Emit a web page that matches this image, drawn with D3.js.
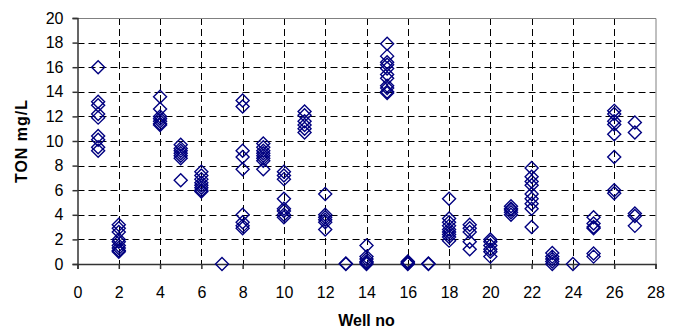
<!DOCTYPE html>
<html>
<head>
<meta charset="utf-8">
<script src="https://cdn.jsdelivr.net/npm/d3@7"></script>
<style>
  body { margin: 0; background: #fff; }
  svg { display: block; font-family: "Liberation Sans", Arial, sans-serif; }
</style>
</head>
<body>
<svg id="chart" width="675" height="331"></svg>
<script>
// TON readings per well (mg/L)
const well1 = [16.0, 13.2, 12.9, 12.2, 11.9, 10.4, 10.1, 9.5, 9.2];
const well2 = [3.2, 2.9, 2.6, 2.0, 1.8, 1.5, 1.3, 1.1, 1.0];
const well4 = [13.6, 12.6, 12.0, 11.8, 11.6, 11.4, 11.3];
const well5 = [9.7, 9.4, 9.2, 9.0, 8.8, 8.6, 6.8];
const well6 = [7.5, 7.2, 6.9, 6.6, 6.4, 6.2, 6.0, 5.9];
const well7 = [0];
const well8 = [13.3, 12.8, 9.2, 8.7, 7.7, 4.0, 3.4, 3.1, 2.9];
const well9 = [9.8, 9.5, 9.2, 9.0, 8.8, 8.6, 8.4, 7.7];
const well10 = [7.5, 7.2, 6.9, 5.3, 4.5, 4.3, 4.0, 3.8];
const well11 = [12.4, 12.1, 11.6, 11.3, 11.0, 10.7];
const well12 = [5.7, 4.0, 3.8, 3.6, 3.4, 2.8];
const well13 = [0.05, 0];
const well14 = [1.5, 0.6, 0.4, 0.2, 0.1, 0];
const well15 = [17.9, 16.9, 16.4, 16.2, 15.9, 15.4, 15.1, 14.5, 14.3, 14.0, 13.9];
const well16 = [0.2, 0.1, 0.05, 0];
const well17 = [0.05, 0];
const well18 = [5.3, 3.7, 3.4, 3.1, 2.8, 2.6, 2.4, 2.2, 1.9];
const well19 = [3.2, 2.9, 2.6, 1.8, 1.2];
const well20 = [2.0, 1.8, 1.5, 1.2, 1.0, 0.6];
const well21 = [4.7, 4.5, 4.4, 4.2, 4.0];
const well22 = [7.8, 7.1, 6.7, 6.4, 5.7, 5.3, 4.9, 4.5, 3.0];
const well23 = [0.9, 0.6, 0.4, 0.2, 0.0];
const well24 = [0];
const well25 = [3.8, 3.3, 3.0, 2.9, 0.85, 0.6];
const well26 = [12.45, 12.2, 11.6, 11.35, 10.55, 8.7, 6.0, 5.75];
const well27 = [11.5, 10.7, 4.1, 3.9, 3.1];

const wells = [
  [1, well1], [2, well2], [4, well4], [5, well5], [6, well6], [7, well7],
  [8, well8], [9, well9], [10, well10], [11, well11], [12, well12], [13, well13],
  [14, well14], [15, well15], [16, well16], [17, well17], [18, well18], [19, well19],
  [20, well20], [21, well21], [22, well22], [23, well23], [24, well24], [25, well25],
  [26, well26], [27, well27]
];
const points = wells.flatMap(([w, vals]) => vals.map(v => ({x: w, y: v})));

const xTicks = d3.range(0, 29, 2);
const yTicks = d3.range(0, 21, 2);

const svg = d3.select('#chart');
const plotL = 77.5, plotR = 655.5, plotT = 18, plotB = 264;

const x = d3.scaleLinear().domain([0, 28]).range([plotL, plotR]);
const y = d3.scaleLinear().domain([0, 20]).range([plotB, plotT]);

// gridlines
const grid = svg.append('g')
  .attr('stroke', '#000')
  .attr('stroke-width', 1)
  .attr('stroke-dasharray', '7,4');
grid.selectAll('line.h')
  .data(yTicks.filter(d => d > 0))
  .enter().append('line')
  .attr('x1', plotL).attr('x2', plotR)
  .attr('y1', d => Math.round(y(d)) + 0.5)
  .attr('y2', d => Math.round(y(d)) + 0.5);
grid.selectAll('line.v')
  .data(xTicks.filter(d => d > 0 && d < 28))
  .enter().append('line')
  .attr('y1', plotT).attr('y2', plotB)
  .attr('x1', d => Math.round(x(d)) + 0.5)
  .attr('x2', d => Math.round(x(d)) + 0.5);

// plot border (top / right)
svg.append('path')
  .attr('d', `M${plotL},${plotT + 0.5}H${plotR + 0.5}V${plotB}`)
  .attr('fill', 'none')
  .attr('stroke', '#808080')
  .attr('stroke-width', 1);

// axes
const xAxis = svg.append('g')
  .attr('transform', `translate(0,${plotB})`)
  .call(d3.axisBottom(x).tickValues(xTicks).tickSize(5).tickPadding(18));
const yAxis = svg.append('g')
  .attr('transform', `translate(${plotL},0)`)
  .call(d3.axisLeft(y).tickValues(yTicks).tickSize(5).tickPadding(9));
[xAxis, yAxis].forEach(a => {
  a.select('.domain').attr('stroke', '#333').attr('stroke-width', 1.5);
  a.selectAll('.tick line').attr('stroke', '#333').attr('stroke-width', 1.5);
  a.selectAll('.tick text')
    .attr('fill', '#000')
    .style('font-size', '16px')
    .style('font-family', '"Liberation Sans", Arial, sans-serif');
});

// diamonds
const diamond = 'M0,-6.5L6.5,0L0,6.5L-6.5,0Z';
svg.append('g').selectAll('path')
  .data(points)
  .enter().append('path')
  .attr('d', diamond)
  .attr('transform', d => `translate(${x(d.x)},${y(d.y)})`)
  .attr('fill', 'none')
  .attr('stroke', '#000080')
  .attr('stroke-width', 1.4);

// axis titles
svg.append('text')
  .attr('x', (plotL + plotR) / 2)
  .attr('y', 326)
  .attr('text-anchor', 'middle')
  .style('font-size', '16px')
  .style('font-weight', 'bold')
  .text('Well no');

svg.append('text')
  .attr('transform', `translate(27,${(plotT + plotB) / 2}) rotate(-90)`)
  .attr('text-anchor', 'middle')
  .style('font-size', '16px')
  .style('font-weight', 'bold')
  .style('letter-spacing', '1px')
  .text('TON mg/L');
</script>
</body>
</html>
